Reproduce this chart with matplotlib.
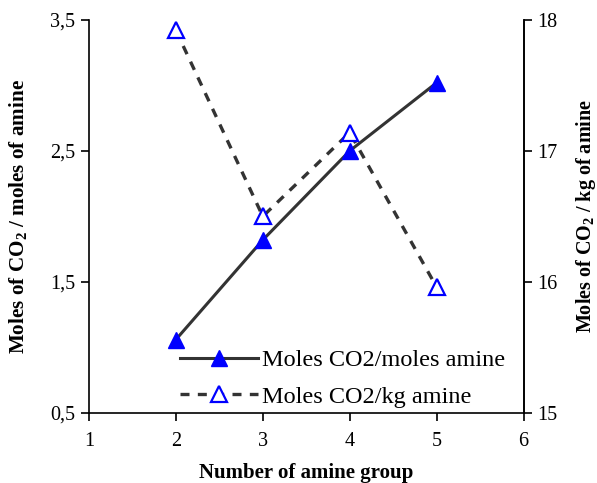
import matplotlib
matplotlib.use('Agg')
import matplotlib.pyplot as plt
from matplotlib.ticker import FuncFormatter

plt.rcParams['font.family'] = ['Liberation Serif', 'DejaVu Serif']
plt.rcParams['mathtext.fontset'] = 'custom'
plt.rcParams['mathtext.rm'] = 'Liberation Serif'
plt.rcParams['mathtext.bf'] = 'Liberation Serif:bold'

## amine group count vs CO2 uptake
n_amine = [2, 3, 4, 5]
co2_per_mole = [1.06, 1.82, 2.50, 3.02]
co2_per_kg = [17.92, 16.50, 17.14, 15.96]

left_ticks = [0.5, 1.5, 2.5, 3.5]
right_ticks = [15, 16, 17, 18]
x_ticks = [1, 2, 3, 4, 5, 6]

fig = plt.figure(figsize=(5.97, 4.83), dpi=100)
ax = fig.add_axes([0.149, 0.145, 0.728, 0.814])
ax2 = ax.twinx()

line_col = '#333333'
mark_col = '#0000ff'

l1, = ax.plot(n_amine, co2_per_mole, color=line_col, lw=2.2, marker='^',
              markersize=11, markerfacecolor=mark_col, markeredgecolor=mark_col,
              label='Moles CO2/moles amine', zorder=3)
l2, = ax2.plot(n_amine, co2_per_kg, color=line_col, lw=2.4, linestyle=(0, (2.7, 2.5)),
               marker='^', markersize=11, markerfacecolor='white',
               markeredgecolor=mark_col, markeredgewidth=1.6,
               label='Moles CO2/kg amine', zorder=3)

ax.set_xlim(1, 6)
ax.set_ylim(0.5, 3.5)
ax2.set_ylim(15, 18)
ax.set_xticks(x_ticks)
ax.set_yticks(left_ticks)
ax2.set_yticks(right_ticks)
ax.yaxis.set_major_formatter(FuncFormatter(lambda v, p: f'{v:.1f}'.replace('.', ',')))

for a in (ax, ax2):
    a.spines['top'].set_visible(False)
    for s in a.spines.values():
        s.set_linewidth(1.2)
    a.tick_params(direction='out', length=6, width=1.2, labelsize=14.5, pad=4)
ax.tick_params(axis='x', pad=8)
ax2.spines['left'].set_visible(False)
ax2.spines['bottom'].set_visible(False)

ax.set_xlabel('Number of amine group', fontsize=15, fontweight='bold', labelpad=8)
ax.set_ylabel(r'Moles of CO$_\mathbf{2}$ / moles of amine', fontsize=15.2,
              fontweight='bold', labelpad=14)
ax2.set_ylabel(r'Moles of CO$_\mathbf{2}$ / kg of amine', fontsize=14.5,
               fontweight='bold', labelpad=12)

ax.legend(handles=[l1, l2], loc='lower left', bbox_to_anchor=(0.185, -0.015),
          frameon=False, fontsize=17.5, handlelength=3.2, handletextpad=0.15,
          labelspacing=0.6, borderaxespad=0.05)

fig.savefig('out.png', dpi=100)
